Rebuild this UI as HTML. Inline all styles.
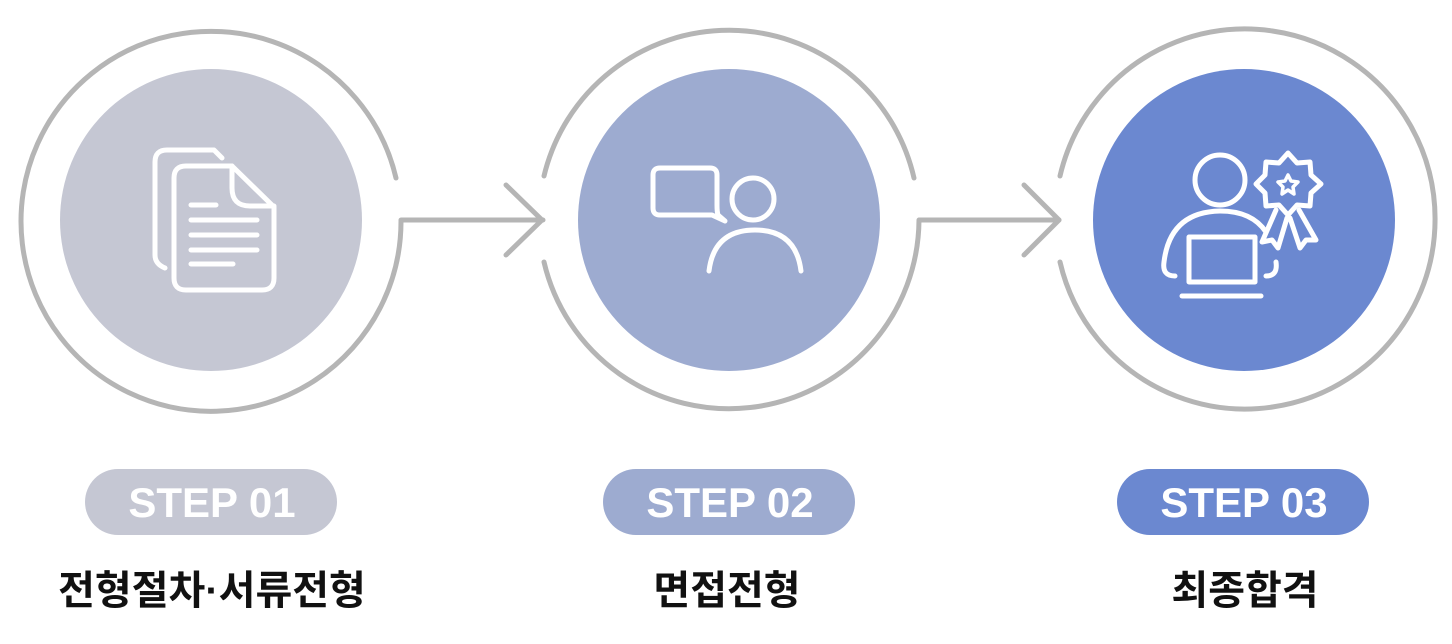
<!DOCTYPE html>
<html><head><meta charset="utf-8"><style>
html,body{margin:0;padding:0;background:#fff;width:1452px;height:644px;overflow:hidden}
.t{font-family:"Liberation Sans","Noto Sans CJK KR",sans-serif;font-weight:bold}
</style></head><body>
<svg width="1452" height="644" viewBox="0 0 1452 644" xmlns="http://www.w3.org/2000/svg">
<g fill="none" stroke="#b5b5b5" stroke-width="5" stroke-linecap="round" stroke-linejoin="round">
<path d="M396 178 A190 190 0 1 0 401 220 L543 220"/>
<path d="M506 185 L542 220 L506 255"/>
<path d="M544 176 A190 190 0 0 1 914 178"/>
<path d="M544 262 A190 190 0 0 0 919 220 L1059 220"/>
<path d="M1024 185 L1059 220 L1024 255"/>
<path d="M1060 176 A190 190 0 1 1 1060 262"/>
</g>
<circle cx="211" cy="220" r="151" fill="#c5c7d3"/>
<circle cx="729" cy="220" r="151" fill="#9dabd0"/>
<circle cx="1244" cy="220" r="151" fill="#6b88d0"/>
<g fill="none" stroke="#fff" stroke-width="5" stroke-linecap="round" stroke-linejoin="round">
<path d="M165 268 Q155 264 155 255 V162 Q155 150 167 150 H214 L222 158"/>
<path d="M232 166 H186 Q174 166 174 178 V278 Q174 290 186 290 H262 Q274 290 274 278 V207 Z"/>
<path d="M232 166 V188 Q232 206 250 206 H274"/>
<path d="M191 205 H216 M191 220 H257 M191 235 H257 M191 250 H257 M191 264 H233"/>
</g>
<g fill="none" stroke="#fff" stroke-width="5" stroke-linecap="round" stroke-linejoin="round">
<path d="M660 168 H710 Q717 168 717 175 V205 Q717 212 718 215 L725 221 L712 215 H660 Q653 215 653 208 V175 Q653 168 660 168 Z"/>
<circle cx="753" cy="199" r="21"/>
<path d="M709 271 Q714 230 755 230 Q796 230 801 271"/>
</g>
<g fill="none" stroke="#fff" stroke-width="5" stroke-linecap="round" stroke-linejoin="round">
<circle cx="1220" cy="180" r="25"/>
<path d="M1175 276 Q1162 276 1164 262 Q1170 212 1220 211 Q1252 211 1266 232"/>
<path d="M1266 276 Q1278 276 1276 262"/>
<rect x="1189" y="237" width="66" height="45"/>
<path d="M1182 296 H1261"/>
<path d="M1288 153 L1297 163 L1310 162 L1311 175 L1321 184 L1311 193 L1310 206 L1297 205 L1288 215 L1279 205 L1266 206 L1265 193 L1256 184 L1265 175 L1266 162 L1279 163 Z"/>
<path d="M1288 175 L1291 181 L1298 182 L1293 187 L1294 194 L1288 190 L1282 194 L1283 187 L1278 182 L1285 181 Z" stroke-width="3.5"/>
<path d="M1276 210 L1262 242 L1272 240 L1278 248 L1287 218"/>
<path d="M1299 210 L1316 240 L1306 240 L1300 248 L1290 218"/>
</g>
<rect x="85" y="469" width="252" height="66" rx="33" fill="#c5c7d3"/>
<rect x="603" y="469" width="252" height="66" rx="33" fill="#9dabd0"/>
<rect x="1117" y="469" width="252" height="66" rx="33" fill="#6b88d0"/>
<g class="t" fill="#fff" font-size="42" text-anchor="middle">
<text x="212" y="517">STEP 01</text>
<text x="730" y="517">STEP 02</text>
<text x="1244" y="517">STEP 03</text>
</g>
<g class="t" fill="#111" font-size="40" text-anchor="middle">
<text x="212" y="604">전형절차·서류전형</text>
<text x="727" y="604">면접전형</text>
<text x="1245" y="604">최종합격</text>
</g>
</svg>
</body></html>
